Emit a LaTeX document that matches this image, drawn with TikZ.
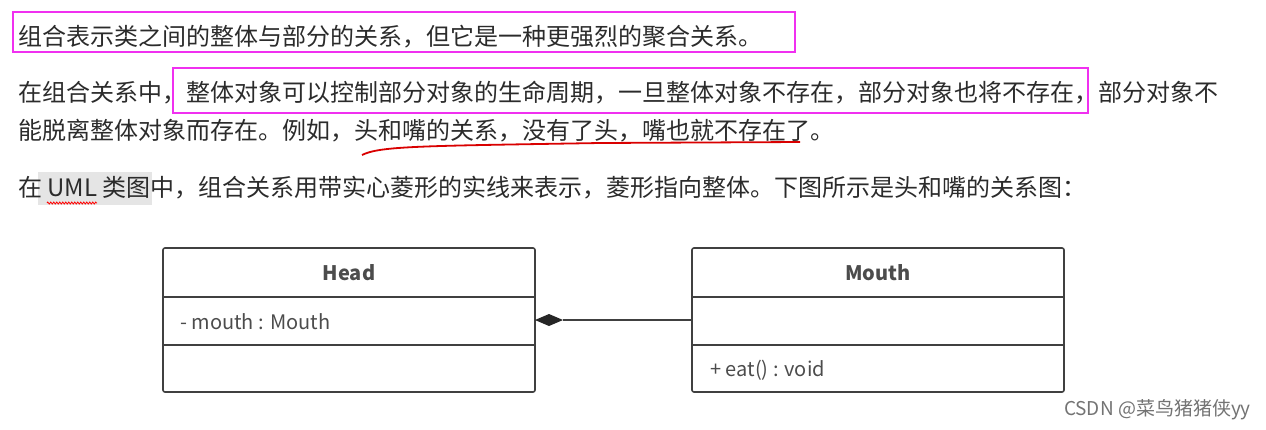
\documentclass[tikz,border=0pt]{standalone}
\usepackage{fontspec}
\setmainfont{Noto Sans CJK SC}
\usetikzlibrary{decorations.pathmorphing}
\definecolor{txt}{HTML}{2B2B2B}
\definecolor{mag}{HTML}{F030F0}
\begin{document}
\begin{tikzpicture}[x=1pt,y=-1pt,
  line/.style={anchor=west,inner sep=0pt,text=txt,font=\fontsize{24}{26}\selectfont},
  uml/.style={draw=black!75,line width=1.6pt,rounded corners=2pt},
  lbl/.style={inner sep=0pt,text=black!70,font=\fontsize{20}{22}\selectfont}]
\useasboundingbox (0,0) rectangle (1266,429);
\fill[black!10] (38,172) rectangle (152,205);
\node[line] (l1) at (18,37) {组合表示类之间的整体与部分的关系，但它是一种更强烈的聚合关系。};
\node[line] (l2) at (18,93) {在组合关系中，整体对象可以控制部分对象的生命周期，一旦整体对象不存在，部分对象也将不存在，部分对象不};
\node[line] (l3) at (18,131) {能脱离整体对象而存在。例如，头和嘴的关系，没有了头，嘴也就不存在了。};
\node[line] (l4) at (18,188) {在 UML 类图中，组合关系用带实心菱形的实线来表示，菱形指向整体。下图所示是头和嘴的关系图：};
\draw[mag,line width=2.2pt] (13,12) rectangle (795,52);
\draw[mag,line width=2.2pt] (173,68) rectangle (1088,113);
\draw[red!85!black,line width=1.8pt] (362,155) .. controls (380,146) and (420,146) .. (600,143) -- (800,142);
\draw[red,line width=0.8pt,decorate,decoration={zigzag,amplitude=1pt,segment length=3pt}] (47,203) -- (97,203);
% UML
\draw[uml] (163,248) rectangle (535,392);
\draw[black!75,line width=1.6pt] (163,297) -- (535,297) (163,345) -- (535,345);
\draw[uml] (692,248) rectangle (1064,392);
\draw[black!75,line width=1.6pt] (692,297) -- (1064,297) (692,345) -- (1064,345);
\node[lbl,font=\fontsize{20}{22}\selectfont\bfseries] (head) at (349,273) {Head};
\node[lbl,font=\fontsize{20}{22}\selectfont\bfseries] (mouth) at (878,273) {Mouth};
\node[lbl,anchor=west] (attr) at (180,322) {- mouth : Mouth};
\node[lbl,anchor=west] (meth) at (710,370) {+ eat() : void};
\coordinate (hr) at (535,320);
\coordinate (ml) at (692,320);
\fill[black!85] (hr) -- (549,314) -- (563,320) -- (549,326) -- cycle;
\draw[black!75,line width=1.6pt] (563,320) -- (ml);
\node[anchor=east,inner sep=0pt,text=black!55,font=\fontsize{19}{21}\selectfont] (wm) at (1251,410) {CSDN @菜鸟猪猪侠yy};
\end{tikzpicture}
\end{document}
